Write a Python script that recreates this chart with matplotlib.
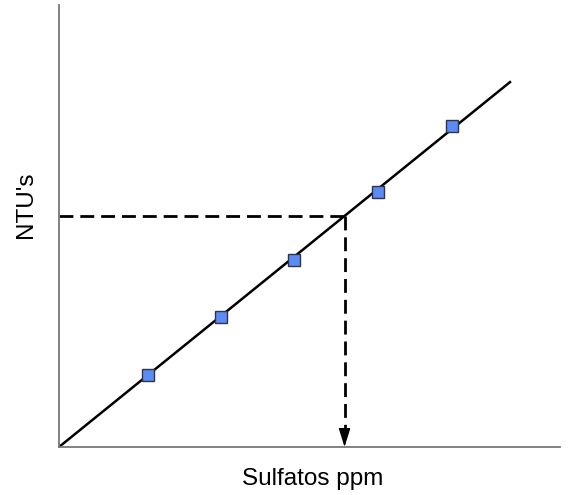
import numpy as np
import matplotlib.pyplot as plt

plt.rcParams['font.family'] = ['Liberation Sans', 'DejaVu Sans']

# calibration points (sulfatos, NTU's)
sulfatos = [1.78, 3.24, 4.70, 6.38, 7.86]
ntu = [1.44, 2.60, 3.74, 5.10, 6.42]

# fitted line through origin
pendiente = 0.809
x_linea = [0.0, 9.02]

# unknown sample
ntu_muestra = 4.62
sulfato_muestra = ntu_muestra / pendiente

fig = plt.figure(figsize=(5.74, 4.95), dpi=100)
ax = fig.add_axes([0.1028, 0.097, 0.8728, 0.893])

ax.plot(x_linea, [pendiente * v for v in x_linea], color='black', lw=1.8, zorder=2)
ax.plot(sulfatos, ntu, linestyle='none', marker='s', ms=8,
        markerfacecolor='#5b8cf5', markeredgecolor='#333344', mew=1.0, zorder=3)

ax.plot([0, sulfato_muestra], [ntu_muestra, ntu_muestra], color='black',
        lw=2, dashes=(5, 2.5), zorder=1)
ax.plot([sulfato_muestra, sulfato_muestra], [ntu_muestra, 0.36], color='black',
        lw=2, dashes=(5, 2.5), zorder=1)
ax.annotate('', xy=(sulfato_muestra, 0), xytext=(sulfato_muestra, 0.34),
            arrowprops=dict(arrowstyle='-|>,head_length=1.15,head_width=0.36',
                            color='black', lw=1, shrinkA=0, shrinkB=0))

ax.set_xlim(0, 10.02)
ax.set_ylim(0, 8.84)
ax.set_xticks([])
ax.set_yticks([])
for s in ['top', 'right']:
    ax.spines[s].set_visible(False)
for s in ['left', 'bottom']:
    ax.spines[s].set_color('#777777')
    ax.spines[s].set_linewidth(1.3)

fig.text(313 / 574, 10 / 495, 'Sulfatos ppm', fontsize=17.5,
         ha='center', va='baseline')
fig.text(32 / 574, 290.5 / 495, "NTU's", fontsize=17.5, rotation=90,
         rotation_mode='anchor', ha='center', va='baseline')

fig.savefig('out.png', dpi=100)
